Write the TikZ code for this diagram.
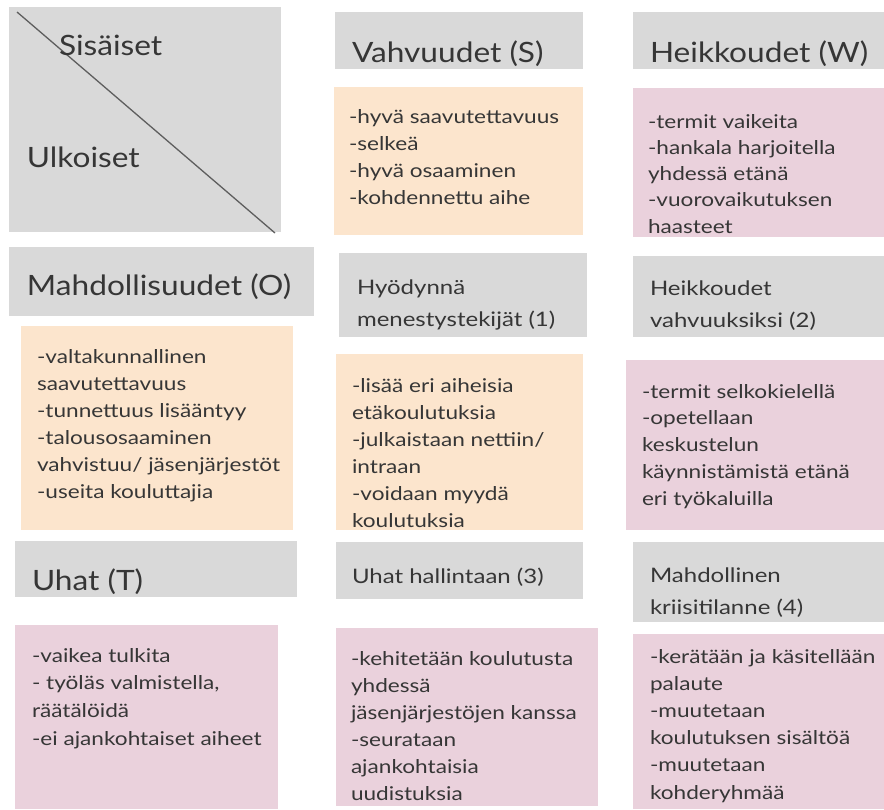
\documentclass[tikz,border=0pt]{standalone}
\usepackage{fontspec}
\setmainfont{Lato}
\newfontfamily\bodyfont[FakeStretch=1.19]{Lato}
\newfontfamily\subfont[FakeStretch=1.2]{Lato}
\newfontfamily\bigfont[FakeStretch=1.13]{Lato}
\definecolor{boxgray}{HTML}{D9D9D9}
\definecolor{boxorange}{HTML}{FCE5CD}
\definecolor{boxpink}{HTML}{EAD1DC}
\definecolor{txt}{HTML}{363636}
\definecolor{diag}{HTML}{5E5E5E}
\newcommand\ml[1]{\vtop{\lineskiplimit=-100pt\halign{##\hfil\cr#1\crcr}}}
\tikzset{
  panel/.style={anchor=north west, inner sep=0, outer sep=0, draw=none},
  graybox/.style={panel, fill=boxgray},
  orangebox/.style={panel, fill=boxorange},
  pinkbox/.style={panel, fill=boxpink},
  lab/.style={anchor=base west, inner sep=0, outer sep=0, text=txt},
  bigt/.style={lab, font=\bigfont\fontsize{28}{34}\selectfont},
  subt/.style={lab, font=\subfont\fontsize{20}{32.5}\selectfont},
  bodyt/.style={lab, font=\bodyfont\fontsize{19}{27}\selectfont},
}
\begin{document}
\begin{tikzpicture}[x=1pt,y=-1pt]
\useasboundingbox (0,0) rectangle (884,809);
% boxes
\node[graybox, minimum width=272pt, minimum height=225pt] (corner) at (9,7) {};
\node[graybox, minimum width=248pt, minimum height=57pt] (hS) at (335,12) {};
\node[graybox, minimum width=251pt, minimum height=57pt] (hW) at (633,12) {};
\node[orangebox, minimum width=249pt, minimum height=148pt] (bS) at (334,87) {};
\node[pinkbox, minimum width=251pt, minimum height=149pt] (bW) at (633,88) {};
\node[graybox, minimum width=305pt, minimum height=69pt] (hO) at (9,247) {};
\node[orangebox, minimum width=272pt, minimum height=204pt] (bO) at (21,326) {};
\node[graybox, minimum width=248pt, minimum height=84pt] (hSO) at (339,253) {};
\node[graybox, minimum width=251pt, minimum height=81pt] (hWO) at (633,256) {};
\node[orangebox, minimum width=247pt, minimum height=176pt] (bSO) at (336,354) {};
\node[pinkbox, minimum width=258pt, minimum height=170pt] (bWO) at (626,360) {};
\node[graybox, minimum width=282pt, minimum height=56pt] (hT) at (15,541) {};
\node[pinkbox, minimum width=263pt, minimum height=184pt] (bT) at (15,625) {};
\node[graybox, minimum width=247pt, minimum height=57pt] (hST) at (336,542) {};
\node[pinkbox, minimum width=262pt, minimum height=178pt] (bST) at (336,628) {};
\node[graybox, minimum width=251pt, minimum height=80pt] (hWT) at (633,542) {};
\node[pinkbox, minimum width=251pt, minimum height=175pt] (bWT) at (633,634) {};
% diagonal
\coordinate (d1) at (17,12);
\coordinate (d2) at (275,233);
\draw[diag, line width=1.3pt] (d1) -- (d2);
% texts
\node[bigt] (tSis) at (59,55) {Sisäiset};
\node[bigt] (tUlk) at (27,167) {Ulkoiset};
\node[bigt] (tS) at (352,62) {Vahvuudet (S)};
\node[bigt] (tW) at (650,62) {Heikkoudet (W)};
\node[bigt] (tO) at (27,295) {Mahdollisuudet (O)};
\node[bigt] (tT) at (32,590) {Uhat (T)};
\node[subt] (tSO) at (357,294) {\ml{Hyödynnä\cr menestystekijät (1)}};
\node[subt] (tWO) at (650,295) {\ml{Heikkoudet\cr vahvuuksiksi (2)}};
\node[subt] (tST) at (352,583) {Uhat hallintaan (3)};
\node[subt] (tWT) at (650,582) {\ml{Mahdollinen\cr kriisitilanne (4)}};
\node[bodyt] (xS) at (349,123) {\ml{-hyvä saavutettavuus\cr -selkeä\cr -hyvä osaaminen\cr -kohdennettu aihe}};
\node[bodyt, font=\bodyfont\fontsize{19}{26.3}\selectfont] (xW) at (648,128) {\ml{-termit vaikeita\cr -hankala harjoitella\cr yhdessä etänä\cr -vuorovaikutuksen\cr haasteet}};
\node[bodyt] (xO) at (37,363) {\ml{-valtakunnallinen\cr saavutettavuus\cr -tunnettuus lisääntyy\cr -talousosaaminen\cr vahvistuu/ jäsenjärjestöt\cr -useita kouluttajia}};
\node[bodyt] (xSO) at (352,392) {\ml{-lisää eri aiheisia\cr etäkoulutuksia\cr -julkaistaan nettiin/\cr intraan\cr -voidaan myydä\cr koulutuksia}};
\node[bodyt, font=\bodyfont\fontsize{19}{26.75}\selectfont] (xWO) at (642,398) {\ml{-termit selkokielellä\cr -opetellaan\cr keskustelun\cr käynnistämistä etänä\cr eri työkaluilla}};
\node[bodyt, font=\bodyfont\fontsize{19}{27.7}\selectfont] (xT) at (32,662) {\ml{-vaikea tulkita\cr - työläs valmistella,\cr räätälöidä\cr -ei ajankohtaiset aiheet}};
\node[bodyt] (xST) at (351,665) {\ml{-kehitetään koulutusta\cr yhdessä\cr jäsenjärjestöjen kanssa\cr -seurataan\cr ajankohtaisia\cr uudistuksia}};
\node[bodyt, font=\bodyfont\fontsize{19}{27.2}\selectfont] (xWT) at (650,663) {\ml{-kerätään ja käsitellään\cr palaute\cr -muutetaan\cr koulutuksen sisältöä\cr -muutetaan\cr kohderyhmää}};
\end{tikzpicture}
\end{document}
